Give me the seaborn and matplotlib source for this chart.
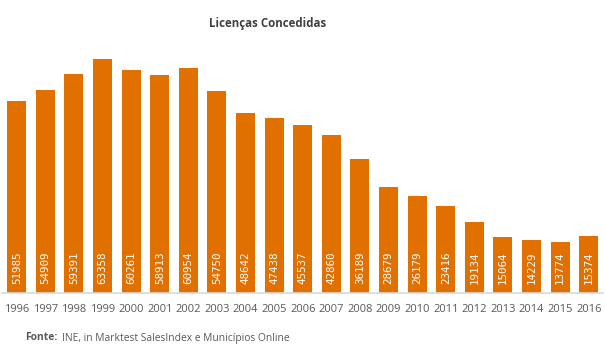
import matplotlib
matplotlib.use("Agg")
import matplotlib.pyplot as plt
import seaborn as sns
import pandas as pd

years = [str(y) for y in range(1996, 2017)]
licencas = [51985, 54909, 59391, 63358, 60261, 58913, 60954, 54750, 48642, 47438,
            45537, 42860, 36189, 28679, 26179, 23416, 19134, 15064, 14229, 13774, 15374]

df = pd.DataFrame({"ano": years, "licencas": licencas})

sns.set_theme(style="white")
plt.rcParams["font.family"] = ["Open Sans", "DejaVu Sans"]

fig = plt.figure(figsize=(6.05, 3.49), dpi=100)
ax = fig.add_axes([0.004, 0.1605, 0.9927, 0.741])

sns.barplot(data=df, x="ano", y="licencas", color="#E07000", saturation=1,
            width=0.66, linewidth=0, ax=ax)

ax.set_ylim(0, 70000)
ax.set_xlim(-0.5, len(years) - 0.5)
for s in ["top", "right", "left"]:
    ax.spines[s].set_visible(False)
ax.spines["bottom"].set_color("#d9d9d9")
ax.spines["bottom"].set_linewidth(1.2)
ax.set_yticks([])
ax.set_xlabel("")
ax.set_ylabel("")
ax.tick_params(axis="x", length=0, pad=8, labelsize=8, labelcolor="#595959")

for i, v in enumerate(licencas):
    ax.text(i, 2300, str(v), rotation=90, ha="center", va="bottom",
            color="white", fontsize=7.8, family="DejaVu Sans Mono")

fig.text(268 / 605, 1 - 23 / 349, "Licenças Concedidas", ha="center", va="center",
         fontsize=8.3, fontweight="bold", color="#404040")
fig.text(25 / 605, 1 - 338 / 349, "Fonte:", ha="left", va="center",
         fontsize=7.4, fontweight="bold", color="#595959")
fig.text(62 / 605, 1 - 338 / 349, "INE, in Marktest SalesIndex e Municípios Online",
         ha="left", va="center", fontsize=7.4, color="#595959")

fig.savefig("out.png", dpi=100)
